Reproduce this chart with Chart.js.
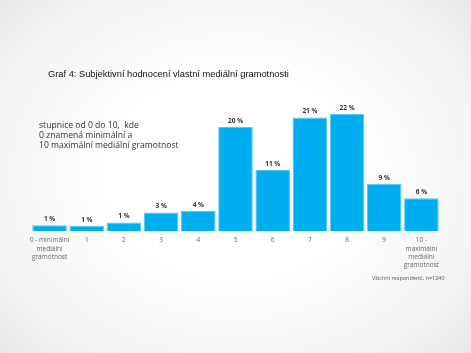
<!DOCTYPE html>
<html>
<head>
<meta charset="utf-8">
<script src="https://cdn.jsdelivr.net/npm/chart.js@4/dist/chart.umd.min.js"></script>
<style>
  html, body { margin: 0; padding: 0; }
  body {
    width: 471px; height: 353px; overflow: hidden; position: relative;
    background: radial-gradient(ellipse 75% 80% at 50% 50%, #ffffff 35%, #f4f4f4 70%, #e3e3e3 100%);
  }
  #wrap { position: absolute; left: 0; top: 0; width: 471px; height: 353px; }
  .txt { position: absolute; white-space: nowrap; }
  #title { left: 48px; top: 68.5px; font: 9.3px "Liberation Sans", Arial, sans-serif; color: #111; }
  #note { left: 39px; top: 119.5px; font: 8.6px "Open Sans", sans-serif; line-height: 10.4px; color: #333; }
  #foot { left: 372px; top: 274px; font: 5.5px "Open Sans", sans-serif; color: #555; }
</style>
</head>
<body>
<div id="wrap"><canvas id="c" width="471" height="353"></canvas></div>
<div class="txt" id="title">Graf 4: Subjektivní hodnocení vlastní mediální gramotnosti</div>
<div class="txt" id="note">stupnice od 0 do 10,&nbsp; kde<br>0 znamená minimální a<br>10 maximální mediální gramotnost</div>
<div class="txt" id="foot">Všichni respondenti, n=1240</div>
<script>
const categories = [
  ["0 - minimální", "mediální", "gramotnost"],
  "1", "2", "3", "4", "5", "6", "7", "8", "9",
  ["10 -", "maximální", "mediální", "gramotnost"]
];
const values = [1.1, 1.0, 1.6, 3.5, 3.8, 19.6, 11.5, 21.4, 22.1, 8.9, 6.2];
const valueLabels = ["1 %", "1 %", "1 %", "3 %", "4 %", "20 %", "11 %", "21 %", "22 %", "9 %", "6 %"];

const barLabels = {
  id: 'barLabels',
  afterDatasetsDraw(chart) {
    const ctx = chart.ctx;
    const meta = chart.getDatasetMeta(0);
    ctx.save();
    ctx.font = 'bold 6.5px "Open Sans", sans-serif';
    ctx.fillStyle = '#333';
    ctx.textAlign = 'center';
    ctx.textBaseline = 'middle';
    meta.data.forEach((bar, i) => {
      ctx.fillText(valueLabels[i], bar.x, bar.y - 6);
    });
    ctx.restore();
  }
};

new Chart(document.getElementById('c'), {
  type: 'bar',
  data: {
    labels: categories,
    datasets: [{
      data: values,
      backgroundColor: '#00AEEF',
      borderColor: '#5CC6F0',
      borderWidth: 1,
      barPercentage: 0.93,
      categoryPercentage: 1.0
    }]
  },
  options: {
    responsive: false,
    animation: false,
    events: [],
    layout: { padding: { left: 31, right: 31, top: 98.5, bottom: 0 } },
    plugins: { legend: { display: false }, tooltip: { enabled: false } },
    scales: {
      x: {
        grid: { display: false, drawTicks: false },
        border: { display: false },
        ticks: {
          font: { family: '"Open Sans", sans-serif', size: 6.5, lineHeight: 1.3 },
          color: '#666',
          padding: 5,
          maxRotation: 0,
          autoSkip: false
        },
        afterFit(scale) { scale.height = 122; }
      },
      y: {
        display: false,
        min: 0,
        max: 25
      }
    }
  },
  plugins: [barLabels]
});
</script>
</body>
</html>
